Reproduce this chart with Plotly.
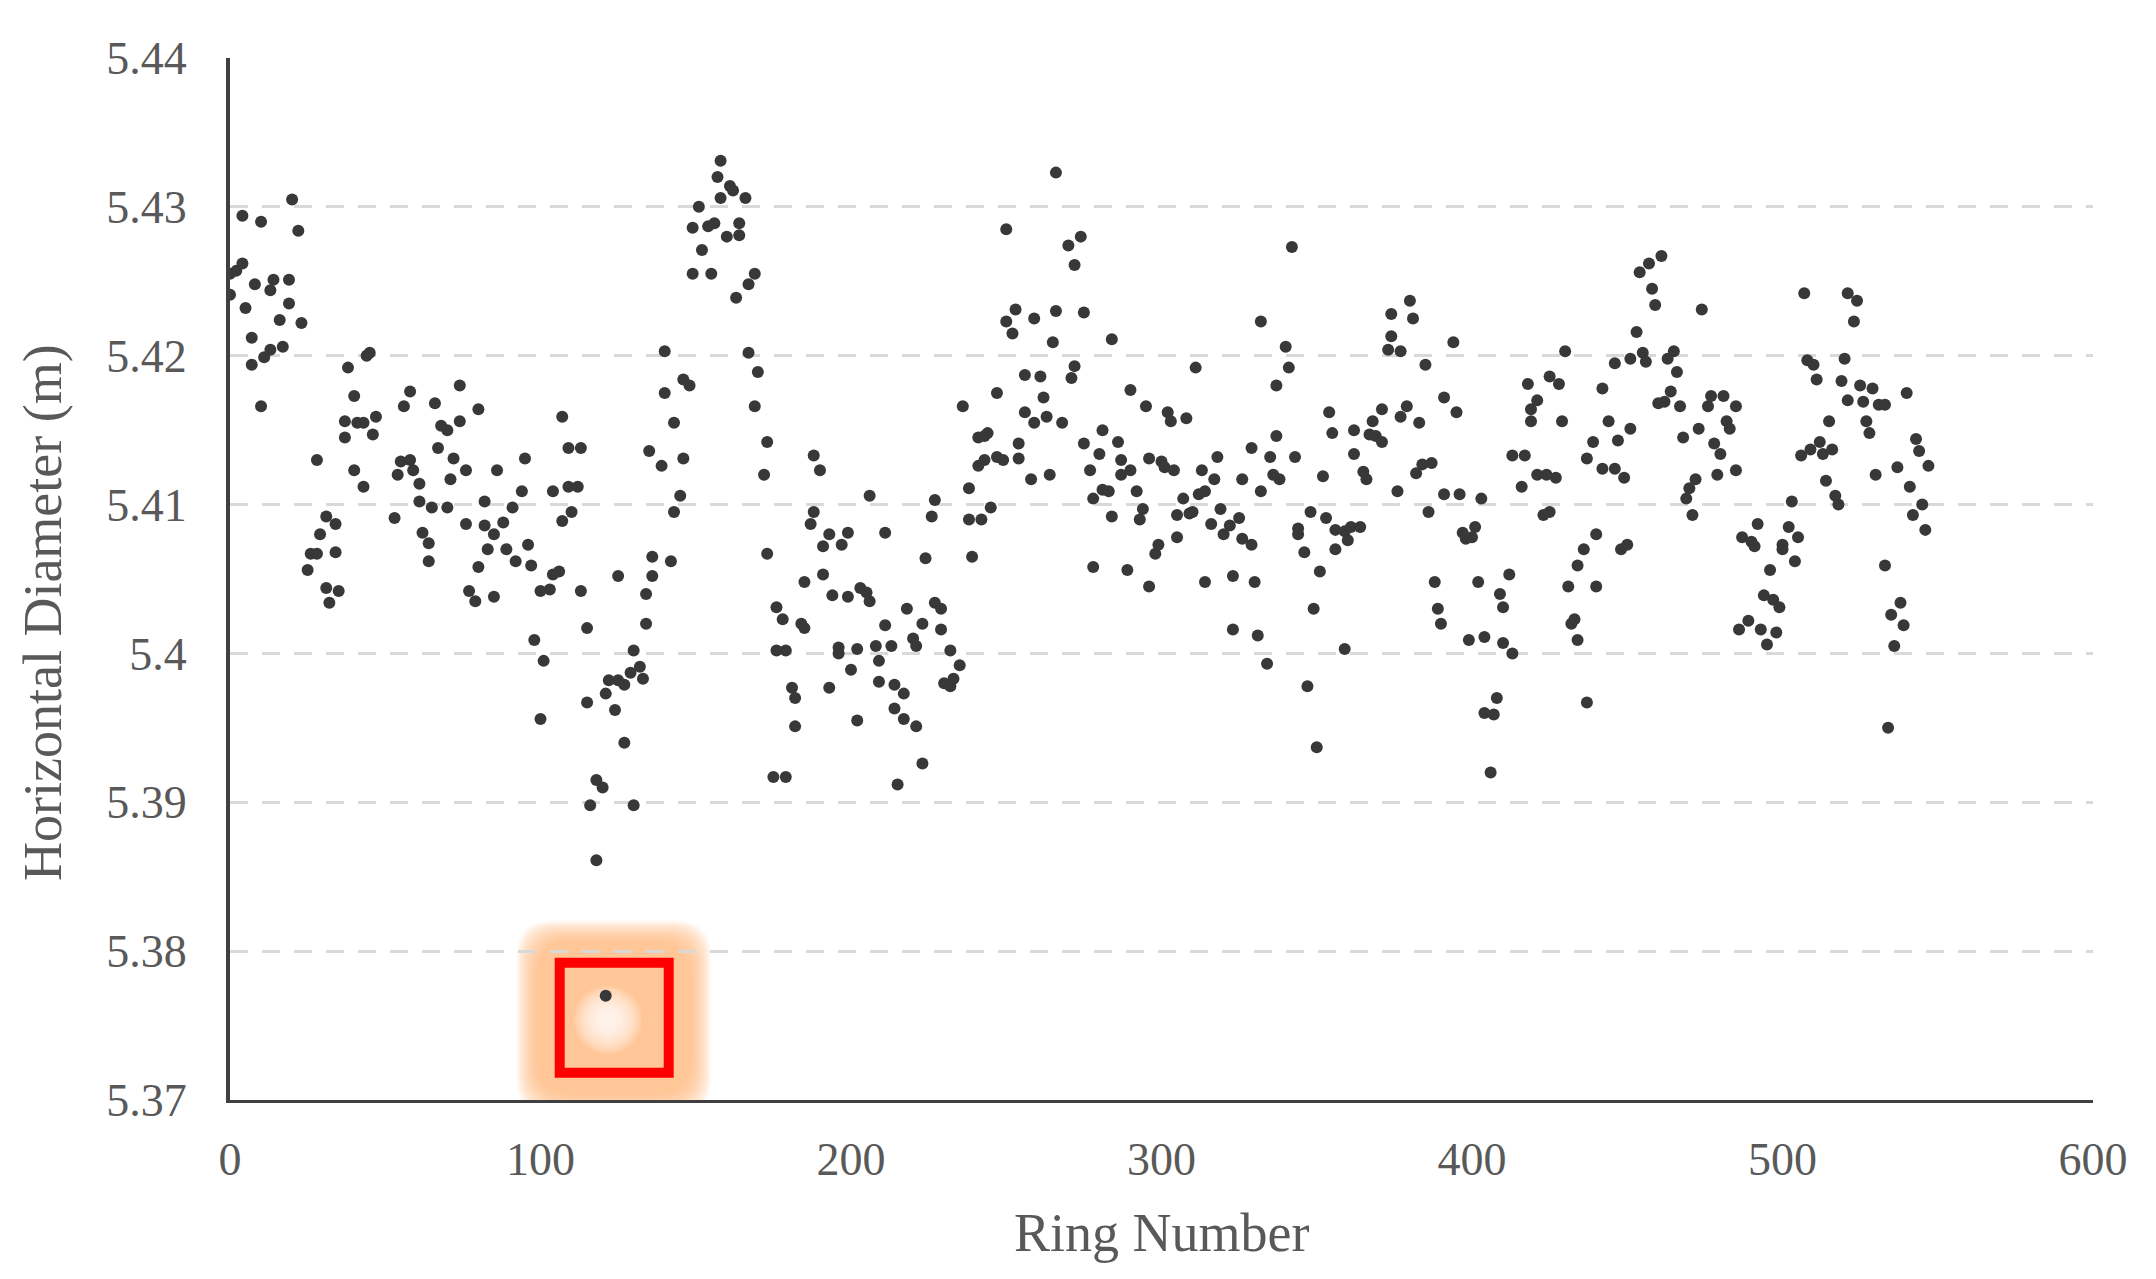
import plotly.graph_objects as go

# ---------------- data ----------------
ring_number = [
    0, 0, 2, 4, 4, 5, 7, 7, 8, 10, 10, 11, 13, 13, 14, 16, 17, 19, 19, 20, 22, 23,
    25, 26, 28, 28, 29, 31, 31, 32, 34, 34, 35, 37, 37, 38, 40, 40, 41, 43, 43, 44, 45, 46, 47,
    53, 54, 55, 56, 58, 58, 59, 61, 61, 62, 64, 64, 65, 66, 67, 68,
    70, 70, 71, 72, 74, 74, 76, 76, 77, 79, 80, 80, 82, 82, 83, 85, 85, 86, 88, 89,
    91, 92, 94, 95, 96, 97, 98, 100, 100, 101, 103, 104, 104, 106, 107, 107, 109, 109, 110,
    112, 113, 113, 115, 115, 116, 118, 118, 120, 121, 121, 122, 124, 125, 125, 127, 127, 129,
    130, 130, 132, 133, 134, 134, 135, 136, 136, 139, 140, 140, 142, 143, 143, 145, 146, 146,
    148, 149, 149, 151, 152, 154, 155, 156, 157, 158, 158, 160, 161, 162, 163, 164, 164, 166,
    167, 167, 169, 169, 170, 172, 173, 173, 175, 176, 176, 178, 179, 179, 181, 182, 182, 184,
    185, 185, 187, 188, 188, 190, 191, 191, 193, 193, 194, 196, 196, 197, 199, 199, 200, 202,
    202, 203, 205, 206, 206, 208, 209, 209, 211, 211, 213, 214, 214, 215, 217, 217, 218, 220,
    221, 221, 223, 223, 224, 226, 227, 227, 229, 229, 230, 232, 232, 233, 235, 236, 238, 238,
    239, 241, 241, 242, 243, 243, 244, 245, 247, 247, 249, 250, 250, 252, 253, 254, 254, 256,
    256, 258, 259, 259, 261, 262, 263, 264, 265, 266, 266, 268, 270, 271, 272, 272, 274, 275,
    275, 277, 278, 278, 280, 281, 281, 283, 284, 284, 286, 287, 287, 289, 290, 290, 292, 293,
    294, 295, 296, 296, 298, 299, 300, 301, 302, 303, 304, 305, 305, 307, 308, 309, 310, 311,
    312, 313, 314, 314, 316, 317, 318, 319, 320, 322, 323, 323, 325, 326, 326, 329, 329, 330,
    331, 332, 332, 334, 335, 336, 337, 337, 338, 340, 341, 342, 343, 344, 344, 346, 347, 348,
    349, 350, 351, 352, 353, 354, 355, 356, 356, 359, 359, 360, 361, 362, 362, 364, 365, 366,
    367, 368, 369, 371, 371, 373, 374, 374, 376, 377, 377, 379, 380, 381, 382, 383, 384, 385,
    386, 387, 388, 389, 390, 391, 391, 394, 395, 396, 397, 398, 399, 400, 401, 402, 403, 404,
    404, 406, 407, 408, 409, 410, 410, 412, 413, 413, 416, 417, 418, 419, 419, 421, 421, 423,
    424, 425, 425, 427, 428, 429, 430, 431, 432, 433, 434, 434, 436, 437, 437, 439, 440, 440,
    442, 442, 444, 446, 446, 447, 448, 449, 450, 451, 451, 453, 454, 455, 456, 457, 458, 459,
    460, 461, 462, 463, 464, 465, 466, 467, 468, 469, 470, 471, 472, 473, 474, 476, 477, 478,
    479, 480, 481, 482, 483, 485, 485, 486, 487, 489, 490, 491, 492, 493, 494, 495, 496, 497,
    498, 499, 500, 500, 502, 503, 504, 505, 506, 507, 508, 509, 510, 511, 512, 513, 514, 515,
    516, 517, 518, 519, 520, 521, 521, 523, 524, 525, 526, 527, 528, 529, 530, 531, 533, 533,
    534, 535, 536, 537, 538, 539, 540, 541, 542, 543, 544, 545, 546, 547,
]

horizontal_diameter = [
    5.4241, 5.4255, 5.4257, 5.4294, 5.4262, 5.4232, 5.4212, 5.4194, 5.4248, 5.4290, 5.4166,
    5.4199, 5.4244, 5.4204, 5.4251, 5.4224, 5.4206, 5.4235, 5.4251, 5.4305, 5.4284, 5.4222,
    5.4056, 5.4067, 5.4130, 5.4067, 5.4080, 5.4092, 5.4044, 5.4034, 5.4087, 5.4068, 5.4042,
    5.4156, 5.4145, 5.4192, 5.4173, 5.4123, 5.4155, 5.4155, 5.4112, 5.4200, 5.4202, 5.4147, 5.4159,
    5.4091, 5.4120, 5.4129, 5.4166, 5.4176, 5.4130, 5.4123, 5.4114, 5.4102, 5.4081, 5.4074,
    5.4062, 5.4098, 5.4168, 5.4138, 5.4153,
    5.4150, 5.4098, 5.4117, 5.4131, 5.4180, 5.4156, 5.4123, 5.4087, 5.4042, 5.4035, 5.4058,
    5.4164, 5.4102, 5.4086, 5.4070, 5.4038, 5.4080, 5.4123, 5.4088, 5.4070,
    5.4098, 5.4062, 5.4109, 5.4131, 5.4073, 5.4059, 5.4009, 5.4042, 5.3956, 5.3995, 5.4043,
    5.4053, 5.4109, 5.4055, 5.4159, 5.4089, 5.4138, 5.4112, 5.4095,
    5.4112, 5.4138, 5.4042, 5.4017, 5.3967, 5.3898, 5.3915, 5.3861, 5.3910, 5.3770, 5.3973,
    5.3982, 5.3962, 5.4052, 5.3982, 5.3979, 5.3940, 5.3987,
    5.3898, 5.4002, 5.3991, 5.3983, 5.4020, 5.4040, 5.4136, 5.4052, 5.4065, 5.4126, 5.4203,
    5.4175, 5.4062, 5.4095, 5.4155, 5.4106, 5.4131, 5.4184,
    5.4180, 5.4255, 5.4286, 5.4300, 5.4271, 5.4287, 5.4255, 5.4289, 5.4320, 5.4306, 5.4331,
    5.4280, 5.4314, 5.4311, 5.4239, 5.4281, 5.4289, 5.4306,
    5.4248, 5.4202, 5.4255, 5.4166, 5.4189, 5.4120, 5.4142, 5.4067, 5.3917, 5.4031, 5.4002,
    5.4023, 5.4002, 5.3917, 5.3977, 5.3970, 5.3951, 5.4020,
    5.4017, 5.4048, 5.4087, 5.4095, 5.4133, 5.4123, 5.4072, 5.4053, 5.4080, 5.3977, 5.4039,
    5.4004, 5.4000, 5.4073, 5.4081, 5.4038, 5.3989, 5.4003,
    5.3955, 5.4044, 5.4041, 5.4035, 5.4106, 5.4005, 5.3995, 5.3981, 5.4019, 5.4081, 5.4005,
    5.3979, 5.3963, 5.3912, 5.3956, 5.3973, 5.4030, 5.4010,
    5.4005, 5.3951, 5.3926, 5.4020, 5.4064, 5.4092, 5.4103, 5.4034, 5.4016, 5.4030, 5.3980,
    5.4002, 5.3978, 5.3983, 5.3992, 5.4166, 5.4111, 5.4090,
    5.4065, 5.4126, 5.4145, 5.4090, 5.4146, 5.4130, 5.4148, 5.4098, 5.4132, 5.4175, 5.4130,
    5.4223, 5.4285, 5.4215, 5.4231, 5.4141, 5.4131, 5.4187,
    5.4162, 5.4117, 5.4155, 5.4225, 5.4186, 5.4172, 5.4159, 5.4120, 5.4209, 5.4323, 5.4230,
    5.4155, 5.4274, 5.4185, 5.4193, 5.4261, 5.4280, 5.4229,
    5.4141, 5.4123, 5.4058, 5.4104, 5.4134, 5.4110, 5.4150, 5.4109, 5.4092, 5.4211, 5.4142,
    5.4120, 5.4130, 5.4056, 5.4177, 5.4123, 5.4109, 5.4090,
    5.4097, 5.4166, 5.4131, 5.4045, 5.4067, 5.4073, 5.4129, 5.4125, 5.4162, 5.4156, 5.4123,
    5.4078, 5.4093, 5.4104, 5.4158, 5.4094, 5.4095, 5.4192,
    5.4107, 5.4123, 5.4109, 5.4048, 5.4087, 5.4117, 5.4132, 5.4097, 5.4080, 5.4086, 5.4016,
    5.4052, 5.4091, 5.4077, 5.4117, 5.4073, 5.4138, 5.4048,
    5.4012, 5.4109, 5.4223, 5.3993, 5.4132, 5.4120, 5.4180, 5.4146, 5.4117, 5.4206, 5.4192,
    5.4273, 5.4132, 5.4080, 5.4084, 5.4068, 5.3978, 5.4095,
    5.4030, 5.3937, 5.4055, 5.4119, 5.4091, 5.4162, 5.4148, 5.4083, 5.4070, 5.4003, 5.4082,
    5.4076, 5.4085, 5.4134, 5.4150, 5.4085, 5.4122, 5.4117,
    5.4147, 5.4156, 5.4146, 5.4164, 5.4142, 5.4204, 5.4228, 5.4213, 5.4109, 5.4203, 5.4159,
    5.4166, 5.4237, 5.4225, 5.4121, 5.4155, 5.4127, 5.4194,
    5.4095, 5.4128, 5.4048, 5.4030, 5.4020, 5.4172, 5.4107, 5.4209, 5.4162, 5.4107, 5.4081,
    5.4077, 5.4009, 5.4078, 5.4085, 5.4048, 5.4104, 5.4011,
    5.3960, 5.3920, 5.3959, 5.3970, 5.4040, 5.4031, 5.4007, 5.4053, 5.4000, 5.4133, 5.4112,
    5.4133, 5.4181, 5.4164, 5.4156, 5.4170, 5.4120, 5.4093,
    5.4120, 5.4186, 5.4095, 5.4118, 5.4181, 5.4156, 5.4203, 5.4045, 5.4020, 5.4023, 5.4059,
    5.4009, 5.4070, 5.3967, 5.4131, 5.4142, 5.4080, 5.4045,
    5.4178, 5.4124, 5.4156, 5.4124, 5.4195, 5.4143, 5.4070, 5.4118, 5.4073, 5.4151, 5.4198,
    5.4216, 5.4256, 5.4202, 5.4196, 5.4262, 5.4245, 5.4234,
    5.4168, 5.4267, 5.4169, 5.4198, 5.4176, 5.4203, 5.4189, 5.4166, 5.4145, 5.4104, 5.4111,
    5.4093, 5.4117, 5.4151, 5.4231, 5.4166, 5.4173, 5.4141,
    5.4120, 5.4134, 5.4173, 5.4156, 5.4151, 5.4166, 5.4123, 5.4016, 5.4078, 5.4022, 5.4075,
    5.4072, 5.4087, 5.4016, 5.4039, 5.4006, 5.4056, 5.4036,
    5.4014, 5.4031, 5.4070, 5.4073, 5.4085, 5.4102, 5.4062, 5.4078, 5.4133, 5.4242, 5.4197,
    5.4137, 5.4194, 5.4184, 5.4142, 5.4134, 5.4116, 5.4156,
    5.4137, 5.4106, 5.4100, 5.4183, 5.4198, 5.4242, 5.4170, 5.4223, 5.4237, 5.4180, 5.4169,
    5.4156, 5.4148, 5.4178, 5.4120, 5.4167, 5.4167, 5.4059,
    5.3950, 5.4026, 5.4005, 5.4125, 5.4034, 5.4019, 5.4175, 5.4112, 5.4093, 5.4144, 5.4136,
    5.4100, 5.4083, 5.4126,
]

x_tick_values = [0, 100, 200, 300, 400, 500, 600]
x_tick_labels = ["0", "100", "200", "300", "400", "500", "600"]
y_tick_values = [5.37, 5.38, 5.39, 5.40, 5.41, 5.42, 5.43, 5.44]
y_tick_labels = ["5.37", "5.38", "5.39", "5.4", "5.41", "5.42", "5.43", "5.44"]

x_title = "Ring Number"
y_title = "Horizontal Diameter (m)"

# the highlighted outlier is the smallest measured diameter
i_out = min(range(len(horizontal_diameter)), key=lambda i: horizontal_diameter[i])
hx, hy = ring_number[i_out], horizontal_diameter[i_out]

# ---------------- style ----------------
FONT = "Liberation Serif, Times New Roman, serif"
TEXT_GREY = "#595959"
W, H = 2156, 1279
# the page body adds an 8px offset, so the margins are shifted accordingly
M_L, M_R, M_T, M_B = 222, 71, 50, 187


def rounded_rect(cx, cy, hw, hh, r):
    x0, x1, y0, y1 = cx - hw, cx + hw, cy - hh, cy + hh
    return (f"M{x0 + r},{y0} L{x1 - r},{y0} Q{x1},{y0} {x1},{y0 + r} "
            f"L{x1},{y1 - r} Q{x1},{y1} {x1 - r},{y1} L{x0 + r},{y1} "
            f"Q{x0},{y1} {x0},{y1 - r} L{x0},{y0 + r} Q{x0},{y0} {x0 + r},{y0} Z")


shapes = []
# soft orange glow (pixel offsets from the highlighted point, y positive = up)
gcx, gcy = 8, -22
n_glow = 14
for k in range(n_glow):
    half = 97 - k * 1.6
    shapes.append(dict(
        type="path", layer="below", xref="x", yref="y",
        xsizemode="pixel", ysizemode="pixel", xanchor=hx, yanchor=hy,
        path=rounded_rect(gcx, gcy, half, half, 36),
        fillcolor="#FCB884", opacity=0.10, line=dict(width=0),
    ))
# white soft centre
for k in range(10):
    r = 34 - k * 2.8
    shapes.append(dict(
        type="circle", layer="below", xref="x", yref="y",
        xsizemode="pixel", ysizemode="pixel", xanchor=hx, yanchor=hy,
        x0=2 - r, x1=2 + r, y0=-24 - r, y1=-24 + r,
        fillcolor="#FFFFFF", opacity=0.15, line=dict(width=0),
    ))
# red square
shapes.append(dict(
    type="rect", layer="below", xref="x", yref="y",
    xsizemode="pixel", ysizemode="pixel", xanchor=hx, yanchor=hy,
    x0=-46, x1=63, y0=-77, y1=33,
    fillcolor="rgba(0,0,0,0)", line=dict(color="#FF0000", width=10),
))

fig = go.Figure()
fig.add_trace(go.Scatter(
    x=ring_number, y=horizontal_diameter, mode="markers",
    marker=dict(color="#383838", size=12, line=dict(width=0)),
    showlegend=False, hoverinfo="x+y",
))

fig.update_layout(
    width=W, height=H,
    margin=dict(l=M_L, r=M_R, t=M_T, b=M_B, autoexpand=False),
    paper_bgcolor="white", plot_bgcolor="white",
    font=dict(family=FONT, color=TEXT_GREY),
    shapes=shapes,
    annotations=[
        dict(text=y_title, xref="paper", yref="paper", x=-0.1, y=0.468,
             xanchor="center", yanchor="middle", textangle=-90, showarrow=False,
             font=dict(family=FONT, size=54, color=TEXT_GREY)),
        dict(text=x_title, xref="paper", yref="paper", x=0.5, y=-0.1276,
             xanchor="center", yanchor="middle", showarrow=False,
             font=dict(family=FONT, size=54, color=TEXT_GREY)),
    ],
)

fig.update_xaxes(
    range=[0, 600], tickmode="array", tickvals=x_tick_values, ticktext=x_tick_labels,
    showgrid=False, zeroline=False, showline=True, linecolor="#404040", linewidth=3,
    ticks="", ticklabelstandoff=17, tickfont=dict(family=FONT, size=46, color=TEXT_GREY),
)
fig.update_yaxes(
    range=[5.37, 5.44], tickmode="array", tickvals=y_tick_values, ticktext=y_tick_labels,
    showgrid=True, gridcolor="#D9D9D9", gridwidth=2.5, griddash="18px,14px",
    zeroline=False, showline=True, linecolor="#404040", linewidth=4,
    ticks="", ticklabelstandoff=30, tickfont=dict(family=FONT, size=46, color=TEXT_GREY),
)

fig.write_html("out.html")
